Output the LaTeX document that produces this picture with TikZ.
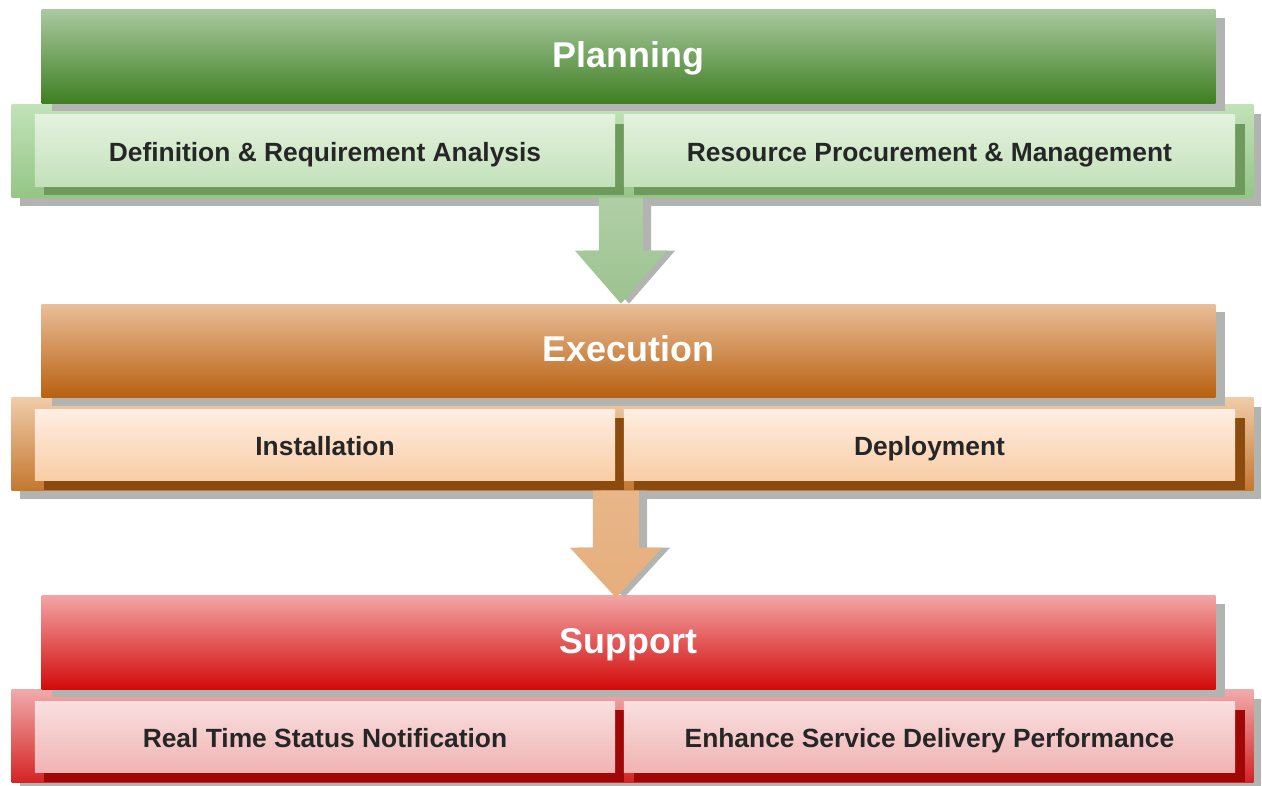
\documentclass[tikz,border=0pt]{standalone}
\usepackage{fontspec}
\setmainfont{Liberation Sans}
\usetikzlibrary{shadows,calc}

\definecolor{plantop}{HTML}{A9C9A0}
\definecolor{planbot}{HTML}{3F7F22}
\definecolor{planbandtop}{HTML}{C2E2B8}
\definecolor{planbandbot}{HTML}{94C686}
\definecolor{plantasktop}{HTML}{E4F2DE}
\definecolor{plantaskbot}{HTML}{C3E1BA}
\definecolor{plandark}{HTML}{6E9A5E}
\definecolor{planarrow}{HTML}{9CC28F}
\definecolor{exectop}{HTML}{E9BE98}
\definecolor{execbot}{HTML}{B8600F}
\definecolor{execbandtop}{HTML}{F0CBA8}
\definecolor{execbandbot}{HTML}{C47830}
\definecolor{exectasktop}{HTML}{FEEEE2}
\definecolor{exectaskbot}{HTML}{F9CDA6}
\definecolor{execdark}{HTML}{8B4A0E}
\definecolor{execarrow}{HTML}{E6AE7C}
\definecolor{supptop}{HTML}{F2A4A4}
\definecolor{suppbot}{HTML}{D30A0A}
\definecolor{suppbandtop}{HTML}{F0AAAA}
\definecolor{suppbandbot}{HTML}{D52424}
\definecolor{supptasktop}{HTML}{F9DFDF}
\definecolor{supptaskbot}{HTML}{F0B3B3}
\definecolor{suppdark}{HTML}{A00808}
\definecolor{shade}{HTML}{B2B4B2}

\tikzset{
  phase/.style={minimum width=11.73cm, minimum height=0.93cm, inner sep=0pt,
    text=white, font=\bfseries\fontsize{10.2}{12}\selectfont,
    text height=1.6ex, text depth=0.45ex,
    drop shadow={shadow xshift=0.1cm, shadow yshift=-0.08cm, fill=shade, opacity=1}},
  band/.style={minimum width=12.41cm, minimum height=0.92cm, inner sep=0pt,
    drop shadow={shadow xshift=0.08cm, shadow yshift=-0.09cm, fill=shade, opacity=1}},
  task/.style={minimum height=0.71cm, inner sep=0pt, text=black!85,
    font=\bfseries\fontsize{7.5}{9}\selectfont,
    text height=1.6ex, text depth=0.45ex},
  lefttask/.style={task, minimum width=5.8cm},
  righttask/.style={task, minimum width=6.11cm},
  flow/.style={drop shadow={shadow xshift=0.08cm, shadow yshift=0cm, fill=shade, opacity=1}}
}

\begin{document}
\begin{tikzpicture}[x=0.01cm, y=-0.01cm]
    \useasboundingbox (0,0) rectangle (1262,786);

    \node[band, top color=planbandtop, bottom color=planbandbot] (pband) at (632.5,151) {};
    \node[lefttask, top color=plantasktop, bottom color=plantaskbot, drop shadow={shadow xshift=0.09cm, shadow yshift=-0.09cm, fill=plandark, opacity=1}] (define) at (325,150.5) {Definition \& Requirement Analysis};
    \node[righttask, top color=plantasktop, bottom color=plantaskbot, drop shadow={shadow xshift=0.1cm, shadow yshift=-0.09cm, fill=plandark, opacity=1}] (resource) at (929.5,150.5) {Resource Procurement \& Management};
    \node[phase, top color=plantop, bottom color=planbot] (planning) at (628.5,56.5) {Planning};

    \node[band, top color=execbandtop, bottom color=execbandbot] (eband) at (632.5,444) {};
    \node[lefttask, top color=exectasktop, bottom color=exectaskbot, drop shadow={shadow xshift=0.09cm, shadow yshift=-0.09cm, fill=execdark, opacity=1}] (install) at (325,445) {Installation};
    \node[righttask, top color=exectasktop, bottom color=exectaskbot, drop shadow={shadow xshift=0.1cm, shadow yshift=-0.09cm, fill=execdark, opacity=1}] (deploy) at (929.5,445) {Deployment};
    \node[phase, top color=exectop, bottom color=execbot] (execution) at (628.5,351) {Execution};

    \node[band, top color=suppbandtop, bottom color=suppbandbot] (sband) at (632.5,736) {};
    \node[lefttask, top color=supptasktop, bottom color=supptaskbot, drop shadow={shadow xshift=0.09cm, shadow yshift=-0.09cm, fill=suppdark, opacity=1}] (status) at (325,737) {Real Time Status Notification};
    \node[righttask, top color=supptasktop, bottom color=supptaskbot, drop shadow={shadow xshift=0.1cm, shadow yshift=-0.09cm, fill=suppdark, opacity=1}] (enhance) at (929.5,737) {Enhance Service Delivery Performance};
    \node[phase, top color=supptop, bottom color=suppbot] (support) at (628.5,642.5) {Support};

    \coordinate (a1) at ($(pband.south)+(-11.5,0)$);
    \path[flow, top color=planarrow!80!white, bottom color=planarrow] (a1) ++(-22,0) -- ++(0,53) -- ++(-24,0) -- ++(46,53) -- ++(46,-53) -- ++(-24,0) -- ++(0,-53) -- cycle;

    \coordinate (a2) at ($(eband.south)+(-16.5,0)$);
    \path[flow, top color=execarrow!90!white, bottom color=execarrow] (a2) ++(-23,0) -- ++(0,57) -- ++(-23,0) -- ++(46,50) -- ++(46,-50) -- ++(-23,0) -- ++(0,-57) -- cycle;
\end{tikzpicture}
\end{document}
